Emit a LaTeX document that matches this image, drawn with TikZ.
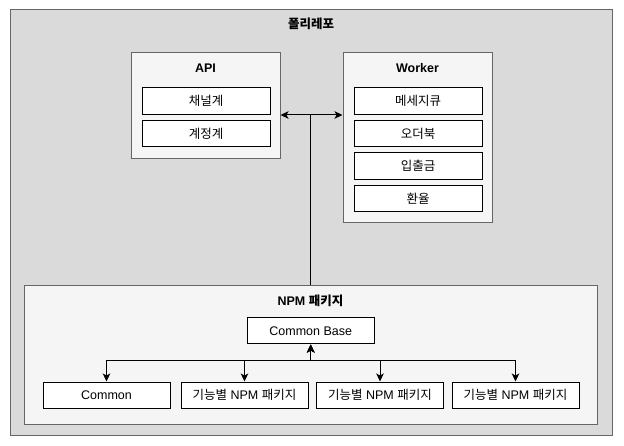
\documentclass[tikz,border=0pt]{standalone}
\usepackage{fontspec}
\setmainfont{Liberation Sans}
\newfontfamily\kr{Noto Sans CJK KR}
\usetikzlibrary{positioning,arrows.meta}
\definecolor{repogray}{HTML}{DADADA}
\definecolor{groupgray}{HTML}{F5F5F5}
\definecolor{linegray}{HTML}{666666}

\begin{document}
\begin{tikzpicture}[
  x=1pt, y=-1pt, line width=1pt,
  repo/.style={rectangle, draw=linegray, fill=repogray, minimum width=602pt, minimum height=425pt},
  group/.style={rectangle, draw=linegray, fill=groupgray},
  item/.style={rectangle, draw, fill=white, minimum width=128pt, minimum height=26.5pt, font=\fontsize{12.5}{14}\selectfont},
  title/.style={font=\fontsize{12.5}{14}\selectfont\bfseries},
  link/.style={{Stealth[length=8pt,width=7.5pt,inset=2pt]}-{Stealth[length=8pt,width=7.5pt,inset=2pt]}}
]
\useasboundingbox (0,0) rectangle (624,446);

% Polyrepo frame
\node[repo] (repo) at (311,222.5) {};
\node[title] (repotitle) at (311,24) {\kr 폴리레포};

% API group
\node[group, minimum width=149pt, minimum height=106pt] (api) at (205.5,106) {};
\node[title] (apititle) at (205.5,68) {API};
\node[item] (chan) at (206,101) {\kr 채널계};
\node[item, below=5pt of chan] (acct) {\kr 계정계};

% Worker group
\node[group, minimum width=149pt, minimum height=169.5pt] (worker) at (417.5,137.75) {};
\node[title] (workertitle) at (417.5,68) {Worker};
\node[item] (mq) at (418,101) {\kr 메세지큐};
\node[item, below=5pt of mq] (order) {\kr 오더북};
\node[item, below=5pt of order] (deposit) {\kr 입출금};
\node[item, below=5pt of deposit] (fx) {\kr 환율};

% NPM packages
\node[group, minimum width=573pt, minimum height=138pt] (npm) at (310.5,355) {};
\node[title] (npmtitle) at (310.5,300.5) {NPM {\kr 패키지}};
\node[item, minimum width=127.5pt, minimum height=26pt] (base) at (310.75,331) {Common Base};
\node[item, minimum width=127pt, minimum height=26pt] (common) at (106.5,395) {Common};
\node[item, minimum width=127pt, minimum height=26pt] (feat1) at (244.5,395) {{\kr 기능별} NPM {\kr 패키지}};
\node[item, minimum width=127pt, minimum height=26pt] (feat2) at (380,395) {{\kr 기능별} NPM {\kr 패키지}};
\node[item, minimum width=127pt, minimum height=26pt] (feat3) at (515.5,395) {{\kr 기능별} NPM {\kr 패키지}};

% Arrows
\coordinate (hub) at (310,115);
\draw[link] (hub -| api.east) -- (hub -| worker.west);
\draw (npm.north -| hub) -- (hub);
\foreach \leaf in {common,feat1,feat2,feat3}
  \draw[link] (base.south) -- ++(0,16) -| (\leaf.north);
\end{tikzpicture}
\end{document}
